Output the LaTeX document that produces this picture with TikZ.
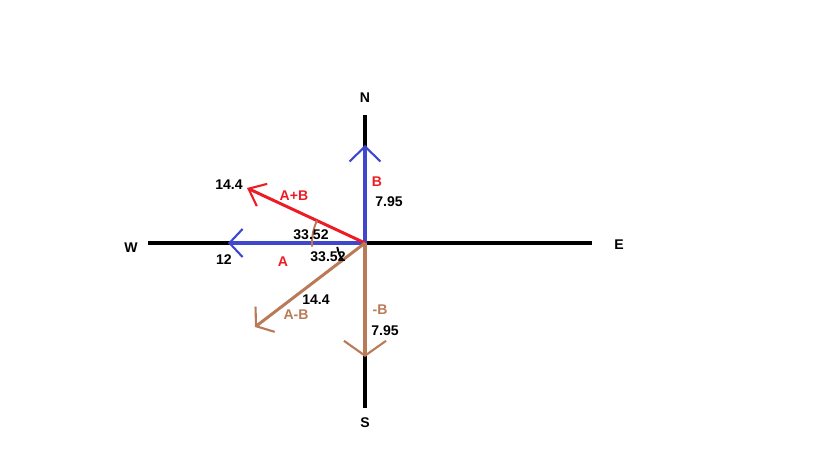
\documentclass[tikz,border=0pt]{standalone}
\usepackage{fontspec}
\setmainfont{Liberation Sans}
\usetikzlibrary{arrows.meta}
\definecolor{vblue}{RGB}{63, 72, 204}
\definecolor{vred}{RGB}{237, 28, 36}
\definecolor{vbrown}{RGB}{185, 122, 87}

\begin{document}
\begin{tikzpicture}[x=0.02cm,y=-0.02cm]
                \useasboundingbox (0,0) rectangle (819,460);

                \tikzstyle{lbl}=[font=\fontsize{8}{9}\selectfont\bfseries, inner sep=0pt]
                \tikzstyle{axis}=[line width=2.7pt, black]
                \tikzstyle{vec}=[line width=2.2pt]
                \tikzstyle{thinvec}=[line width=1.7pt]

                \coordinate (O) at (365,243);
                \coordinate (Nend) at (365,115);
                \coordinate (Send) at (365,408);
                \coordinate (Wend) at (148,243);
                \coordinate (Eend) at (592,243);

                \coordinate (Btip) at (365,145);
                \coordinate (Atip) at (228,243);
                \coordinate (ABtip) at (247,188);
                \coordinate (AmBtip) at (255,327);
                \coordinate (mBtip) at (365,357);

                % compass axes
                \draw[axis] (O) -- (Nend);
                \draw[axis] (O) -- (Send);
                \draw[axis] (O) -- (Wend);
                \draw[axis] (O) -- (Eend);

                \node[lbl] (N) at (365,98) {N};
                \node[lbl] (S) at (365,423) {S};
                \node[lbl] (W) at (131,248) {W};
                \node[lbl] (E) at (619,245) {E};

                % vectors
                \draw[vec, vblue, -{Straight Barb[length=8.5pt,width=17.5pt,line width=1.2pt]}] (O) -- (Btip);
                \draw[vec, vblue, -{Straight Barb[length=7.5pt,width=16pt,line width=1.2pt]}] (O) -- (Atip);
                \draw[thinvec, vred, -{Straight Barb[length=8.5pt,width=14pt,line width=1.2pt]}] (O) -- (ABtip);
                \draw[thinvec, vbrown, -{Straight Barb[length=6.5pt,width=18pt,line width=1.2pt]}] (O) -- (AmBtip);
                \draw[vec, vbrown, -{Straight Barb[length=8.5pt,width=24pt,line width=1.2pt]}] (O) -- (mBtip);

                % angles
                \draw[vbrown, line width=1.1pt] ([shift={(176:53)}]O) arc (176:205:53);
                \draw[black, line width=1.1pt] ([shift={(172:28)}]O) arc (172:142:28);

                \node[lbl] (l1) at (229,185) {14.4};
                \node[lbl, vred] (l2) at (294,196) {A+B};
                \node[lbl, vred] (l3) at (377,182) {B};
                \node[lbl] (l4) at (389,202) {7.95};
                \node[lbl] (l5) at (311,235) {33.52};
                \node[lbl] (l6) at (224,260) {12};
                \node[lbl, vred] (l7) at (283,262) {A};
                \node[lbl] (l8) at (328,257) {33.52};
                \node[lbl] (l9) at (316,300) {14.4};
                \node[lbl, vbrown] (l10) at (296,315) {A-B};
                \node[lbl, vbrown] (l11) at (380,310) {-B};
                \node[lbl] (l12) at (385,331) {7.95};
\end{tikzpicture}
\end{document}
